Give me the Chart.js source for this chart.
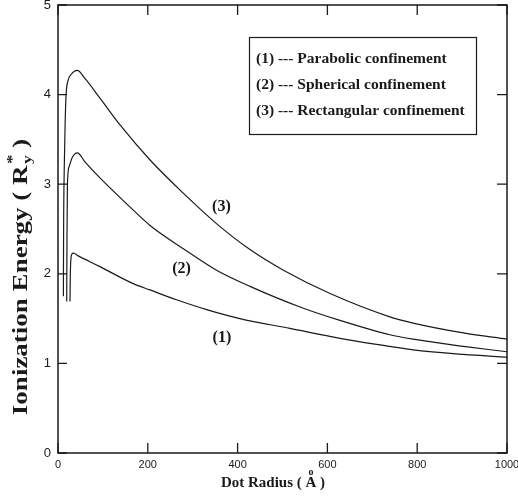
<!DOCTYPE html>
<html>
<head>
<meta charset="utf-8">
<script src="https://cdn.jsdelivr.net/npm/chart.js@4.4.1/dist/chart.umd.min.js"></script>
<style>
  html, body { margin: 0; padding: 0; background: #fff; }
</style>
</head>
<body>
<canvas id="chart" width="518" height="498"></canvas>
<script>
// Ionization energy (R*y) vs dot radius (Å) for three confinement shapes
const parabolicR = [26.7, 27.5, 29, 31, 34, 45, 93.5, 167.7, 205, 264, 331, 405, 516.7, 628, 739, 791, 903, 1000];
const parabolicE = [1.69, 2.0, 2.18, 2.22, 2.23, 2.2, 2.08, 1.89, 1.82, 1.71, 1.60, 1.50, 1.39, 1.28, 1.19, 1.15, 1.10, 1.07];

const sphericalR = [19.4, 20, 21, 25, 32, 43, 60, 93.5, 167.7, 205, 279, 353, 427.6, 539, 628, 739, 791, 903, 1000];
const sphericalE = [1.69, 2.4, 3.0, 3.2, 3.3, 3.35, 3.25, 3.07, 2.71, 2.54, 2.28, 2.04, 1.86, 1.63, 1.48, 1.32, 1.27, 1.19, 1.13];

const rectangularR = [12, 12.5, 14, 16, 18, 22, 30, 43, 60, 93.5, 140, 205, 279, 353, 427.6, 502, 606, 739, 791, 903, 1000];
const rectangularE = [1.75, 2.5, 3.2, 3.7, 4.0, 4.15, 4.23, 4.27, 4.18, 3.96, 3.65, 3.27, 2.90, 2.56, 2.27, 2.04, 1.78, 1.52, 1.45, 1.34, 1.27];

const seriesNames = ['Parabolic confinement', 'Spherical confinement', 'Rectangular confinement'];
// where the (1) (2) (3) tags sit, in data units
const tagR = [365, 275, 364];
const tagE = [1.29, 2.06, 2.75];

const xTicks = [0, 200, 400, 600, 800, 1000];
const yTicks = [0, 1, 2, 3, 4, 5];

const serif = '"Liberation Serif", "Times New Roman", serif';
const ink = '#1a1a1a';

function pts(xs, ys) {
  return xs.map((v, i) => ({ x: v, y: ys[i] }));
}

// box round the plot, inward tick marks, legend box and curve tags
const decorations = {
  id: 'decorations',
  afterDatasetsDraw(chart) {
    const { ctx, chartArea: a, scales: { x, y } } = chart;
    ctx.save();
    ctx.strokeStyle = ink;
    ctx.lineWidth = 1.5;
    ctx.strokeRect(a.left, a.top, a.right - a.left, a.bottom - a.top);

    ctx.lineWidth = 1.3;
    ctx.beginPath();
    xTicks.forEach(v => {
      const px = x.getPixelForValue(v);
      ctx.moveTo(px, a.bottom); ctx.lineTo(px, a.bottom - 10);
      ctx.moveTo(px, a.top); ctx.lineTo(px, a.top + 10);
    });
    yTicks.forEach(v => {
      const py = y.getPixelForValue(v);
      ctx.moveTo(a.left, py); ctx.lineTo(a.left + 9, py);
      ctx.moveTo(a.right, py); ctx.lineTo(a.right - 10, py);
    });
    ctx.stroke();

    // legend
    ctx.lineWidth = 1.2;
    ctx.strokeRect(249.5, 37.5, 227, 97);
    ctx.fillStyle = ink;
    ctx.font = 'bold 15.5px ' + serif;
    ctx.textBaseline = 'middle';
    ctx.textAlign = 'left';
    seriesNames.forEach((name, i) => {
      ctx.fillText('(' + (i + 1) + ') --- ' + name, 256, 59 + i * 26);
    });

    // curve tags
    ctx.font = 'bold 16px ' + serif;
    ctx.textAlign = 'center';
    tagR.forEach((r, i) => {
      ctx.fillText('(' + (i + 1) + ')', x.getPixelForValue(r), y.getPixelForValue(tagE[i]));
    });
    ctx.restore();
  },
  afterDraw(chart) {
    const { ctx } = chart;
    ctx.save();
    ctx.fillStyle = ink;
    ctx.textBaseline = 'alphabetic';

    // x title: Dot Radius ( A with ring )
    ctx.font = 'bold 15px ' + serif;
    const p1 = 'Dot Radius ( ', p2 = 'A', p3 = ' )';
    const w1 = ctx.measureText(p1).width, w2 = ctx.measureText(p2).width, w3 = ctx.measureText(p3).width;
    let sx = 273 - (w1 + w2 + w3) / 2;
    const by = 487;
    ctx.textAlign = 'left';
    ctx.fillText(p1, sx, by);
    ctx.fillText(p2, sx + w1, by);
    ctx.font = 'bold 10px ' + serif;
    ctx.textAlign = 'center';
    ctx.fillText('o', sx + w1 + w2 / 2, by - 12);
    ctx.font = 'bold 15px ' + serif;
    ctx.textAlign = 'left';
    ctx.fillText(p3, sx + w1 + w2, by);

    // y title, rotated and stretched along its length: Ionization Energy ( R*y )
    ctx.translate(27, 277);
    ctx.rotate(-Math.PI / 2);
    ctx.scale(1.35, 1);
    ctx.font = 'bold 20px ' + serif;
    const q1 = 'Ionization Energy ( R', q3 = ' )';
    const m1 = ctx.measureText(q1).width, m3 = ctx.measureText(q3).width;
    ctx.font = 'bold 12px ' + serif;
    const m2 = Math.max(ctx.measureText('*').width, ctx.measureText('y').width) + 2;
    let tx = -(m1 + m2 + m3) / 2;
    ctx.font = 'bold 20px ' + serif;
    ctx.fillText(q1, tx, 0);
    ctx.font = 'bold 14px ' + serif;
    ctx.fillText('*', tx + m1 + 1, -10);
    ctx.font = 'bold 13px ' + serif;
    ctx.fillText('y', tx + m1 + 1, 4);
    ctx.font = 'bold 20px ' + serif;
    ctx.fillText(q3, tx + m1 + m2, 0);
    ctx.restore();
  }
};

const lineStyle = {
  showLine: true,
  borderColor: ink,
  borderWidth: 1.2,
  pointRadius: 0,
  cubicInterpolationMode: 'monotone',
  fill: false
};

new Chart(document.getElementById('chart'), {
  type: 'scatter',
  data: {
    datasets: [
      { ...lineStyle, label: seriesNames[0], data: pts(parabolicR, parabolicE) },
      { ...lineStyle, label: seriesNames[1], data: pts(sphericalR, sphericalE) },
      { ...lineStyle, label: seriesNames[2], data: pts(rectangularR, rectangularE) }
    ]
  },
  options: {
    responsive: false,
    animation: false,
    devicePixelRatio: 1,
    layout: { padding: { left: 0, right: 11, top: 5, bottom: 0 } },
    plugins: {
      legend: { display: false },
      tooltip: { enabled: false }
    },
    scales: {
      x: {
        type: 'linear',
        min: 0,
        max: 1000,
        afterFit(scale) {
          scale.height = 45;
          scale.paddingLeft = 0;
          scale.paddingRight = 0;
        },
        afterBuildTicks(scale) { scale.ticks = xTicks.map(v => ({ value: v })); },
        grid: { display: false, drawTicks: false },
        border: { display: false },
        ticks: {
          padding: 5,
          maxRotation: 0,
          color: ink,
          callback: v => String(v),
          font: { family: 'Arial, "Liberation Sans", sans-serif', size: 11 }
        }
      },
      y: {
        type: 'linear',
        min: 0,
        max: 5,
        afterFit(scale) {
          scale.width = 58;
          scale.paddingTop = 0;
          scale.paddingBottom = 0;
        },
        afterBuildTicks(scale) { scale.ticks = yTicks.map(v => ({ value: v })); },
        grid: { display: false, drawTicks: false },
        border: { display: false },
        ticks: {
          padding: 7,
          color: ink,
          font: { family: 'Arial, "Liberation Sans", sans-serif', size: 13 }
        }
      }
    }
  },
  plugins: [decorations]
});
</script>
</body>
</html>
